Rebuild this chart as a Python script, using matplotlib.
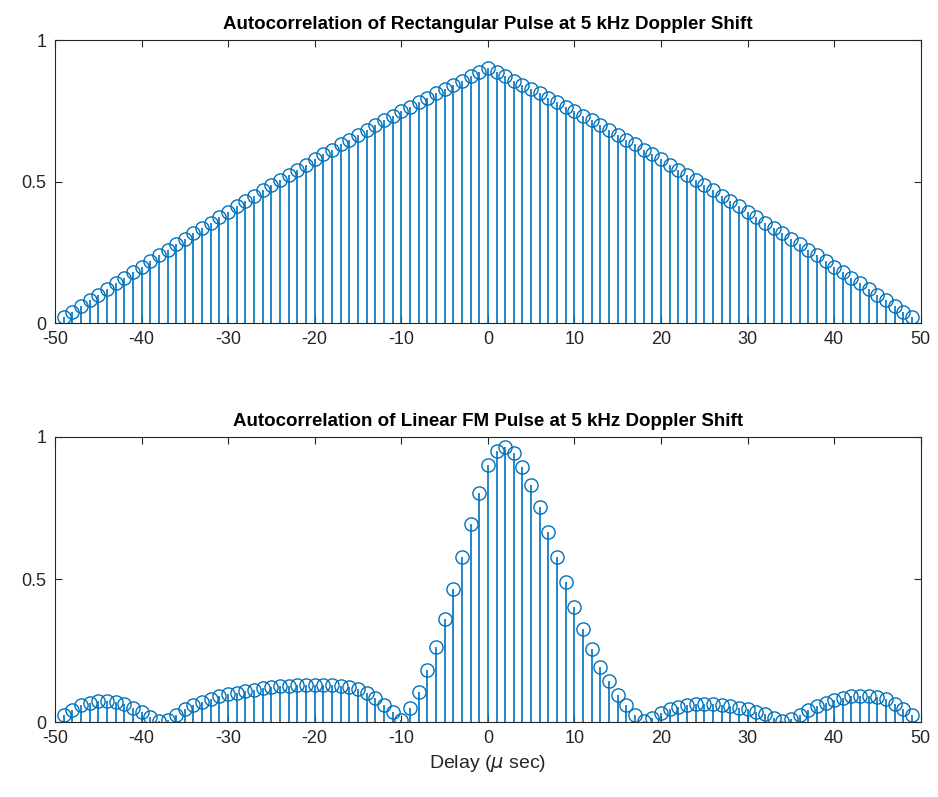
import numpy as np
import matplotlib
matplotlib.use("Agg")
import matplotlib.pyplot as plt

# delay axis (micro seconds)
delay = list(range(-49, 50))

# rectangular pulse, rising half (-49 .. 0)
rect_rise = [0.020, 0.040, 0.060, 0.080, 0.100, 0.120, 0.140, 0.160, 0.179, 0.199,
             0.219, 0.239, 0.258, 0.278, 0.297, 0.317, 0.336, 0.355, 0.374, 0.393,
             0.412, 0.431, 0.450, 0.469, 0.487, 0.506, 0.524, 0.542, 0.560, 0.578,
             0.596, 0.613, 0.631, 0.648, 0.665, 0.682, 0.699, 0.716, 0.732, 0.748,
             0.764, 0.780, 0.796, 0.812, 0.827, 0.842, 0.857, 0.872, 0.886, 0.900]
rect_vals = rect_rise + rect_rise[-2::-1]

# linear FM pulse, -49 .. 49
lfm_vals = [0.025, 0.042, 0.060, 0.068, 0.073, 0.074, 0.070, 0.063, 0.050, 0.036,
            0.018, 0.002, 0.006, 0.025, 0.045, 0.060, 0.070, 0.082, 0.090, 0.097,
            0.103, 0.109, 0.113, 0.118, 0.122, 0.126, 0.128, 0.130, 0.131, 0.131,
            0.130, 0.129, 0.127, 0.123, 0.115, 0.102, 0.083, 0.060, 0.036, 0.008,
            0.048, 0.106, 0.182, 0.264, 0.360, 0.466, 0.580, 0.695, 0.805, 0.902,
            0.952, 0.964, 0.943, 0.896, 0.832, 0.753, 0.668, 0.580, 0.490, 0.405,
            0.325, 0.255, 0.194, 0.144, 0.095, 0.060, 0.025, 0.004, 0.014, 0.030,
            0.045, 0.053, 0.060, 0.063, 0.064, 0.063, 0.060, 0.055, 0.050, 0.045,
            0.036, 0.028, 0.014, 0.002, 0.012, 0.025, 0.042, 0.055, 0.068, 0.077,
            0.085, 0.090, 0.092, 0.092, 0.088, 0.079, 0.064, 0.047, 0.025]

titles = ["Autocorrelation of Rectangular Pulse at 5 kHz Doppler Shift",
          "Autocorrelation of Linear FM Pulse at 5 kHz Doppler Shift"]

plt.rcParams['font.family'] = ['Liberation Sans', 'DejaVu Sans']
plt.rcParams['mathtext.fontset'] = 'dejavusans'
plt.rcParams['axes.unicode_minus'] = False

blue = '#0072BD'
dark = '#262626'

fig = plt.figure(figsize=(9.38, 7.97), dpi=100)
ax1 = fig.add_axes([0.0586, 0.5947, 0.923, 0.355])
ax2 = fig.add_axes([0.0586, 0.0941, 0.923, 0.3576])

for ax, vals, title in zip([ax1, ax2], [rect_vals, lfm_vals], titles):
    markers, stems, base = ax.stem(delay, vals, basefmt=' ')
    plt.setp(stems, color=blue, linewidth=1.2)
    plt.setp(markers, color=blue, markerfacecolor='none', markersize=9.5,
             markeredgewidth=1.0)
    ax.set_xlim(-50, 50)
    ax.set_ylim(0, 1)
    ax.set_xticks(np.arange(-50, 51, 10))
    ax.set_yticks([0, 0.5, 1])
    ax.set_yticklabels(['0', '0.5', '1'])
    ax.tick_params(direction='in', top=True, right=True, length=5,
                   width=0.8, colors=dark, labelsize=13, pad=6)
    for sp in ax.spines.values():
        sp.set_color(dark)
        sp.set_linewidth(0.8)
    ax.set_title(title, fontsize=13.5, fontweight='bold', color='black', pad=8)

ax2.set_xlabel(r'Delay ($\mu$ sec)', fontsize=14, color=dark, labelpad=4)

fig.savefig('out.png', dpi=100)
